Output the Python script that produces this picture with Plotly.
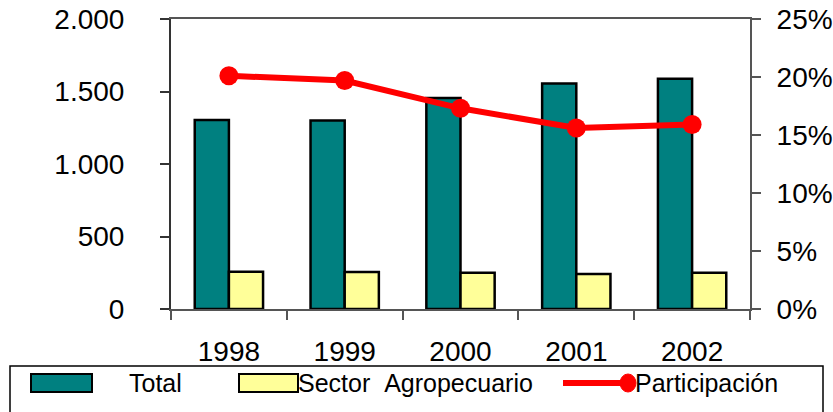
import plotly.graph_objects as go

years = ["1998", "1999", "2000", "2001", "2002"]
total = [1303, 1300, 1455, 1556, 1588]
agro = [257, 255, 250, 241, 250]
participacion = [20.1, 19.7, 17.3, 15.6, 15.9]
pct_ticks = [0, 5, 10, 15, 20, 25]
pct_labels = ["0%", "5%", "10%", "15%", "20%", "25%"]
legend_labels = ["Total", "Sector\u00a0\u00a0Agropecuario", "Participación"]

W, H = 833, 412
L, R, T, B = 171, 750, 19, 309

def px(x):
    return (x - L) / (R - L)

def py(y):
    return (B - y) / (B - T)

FONT = "Liberation Sans, Arial, sans-serif"

fig = go.Figure()
fig.add_trace(go.Bar(x=years, y=total, name=legend_labels[0],
                     marker=dict(color="#008080", line=dict(color="black", width=2.5))))
fig.add_trace(go.Bar(x=years, y=agro, name=legend_labels[1],
                     marker=dict(color="#FFFF99", line=dict(color="black", width=2.5))))
fig.add_trace(go.Scatter(x=years, y=participacion, name=legend_labels[2], yaxis="y2",
                         mode="lines+markers",
                         line=dict(color="#FF0000", width=6),
                         marker=dict(color="#FF0000", size=19)))

shapes = []
annotations = []
shapes.append(dict(type="rect", xref="paper", yref="paper",
                   x0=px(10), x1=px(823), y0=py(366), y1=py(425),
                   line=dict(color="black", width=1.5), fillcolor="white", layer="below"))
shapes.append(dict(type="rect", xref="paper", yref="paper",
                   x0=px(31), x1=px(92), y0=py(374), y1=py(392),
                   line=dict(color="black", width=2), fillcolor="#008080"))
shapes.append(dict(type="rect", xref="paper", yref="paper",
                   x0=px(239), x1=px(298), y0=py(374), y1=py(392),
                   line=dict(color="black", width=2), fillcolor="#FFFF99"))
shapes.append(dict(type="line", xref="paper", yref="paper",
                   x0=px(563), x1=px(628), y0=py(383), y1=py(383),
                   line=dict(color="#FF0000", width=6)))
shapes.append(dict(type="circle", xref="paper", yref="paper",
                   x0=px(620), x1=px(636), y0=py(374), y1=py(392),
                   line=dict(color="#FF0000", width=1), fillcolor="#FF0000"))
for text, x in zip(legend_labels, [128, 297, 634]):
    annotations.append(dict(text=text, xref="paper", yref="paper", x=px(x), y=py(383),
                            xanchor="left", yanchor="middle", showarrow=False, borderpad=0,
                            font=dict(family=FONT, size=25, color="black")))

fig.update_layout(
    width=W, height=H,
    margin=dict(l=L, r=W - R, t=T, b=H - B, pad=0, autoexpand=False),
    paper_bgcolor="white", plot_bgcolor="white",
    separators=",.",
    barmode="group", bargap=0.41, bargroupgap=0,
    showlegend=False,
    font=dict(family=FONT, size=28, color="black"),
    xaxis=dict(showline=True, linecolor="#555555", linewidth=2, mirror=True,
               ticks="outside", ticklen=9, tickcolor="#555555", tickwidth=1.5,
               tickson="boundaries", ticklabelstandoff=16, automargin=False,
               showgrid=False, tickfont=dict(size=28)),
    yaxis=dict(range=[0, 2000], tickvals=[0, 500, 1000, 1500, 2000], tickformat=",d",
               showline=True, linecolor="#333333", linewidth=2, automargin=False,
               ticks="outside", ticklen=9, tickcolor="#333333", tickwidth=1.5,
               ticklabelstandoff=30, showgrid=False, zeroline=False,
               tickfont=dict(size=28)),
    yaxis2=dict(range=[0, 25], tickvals=pct_ticks, ticktext=pct_labels,
                overlaying="y", side="right", automargin=False,
                showline=True, linecolor="#555555", linewidth=2,
                ticks="outside", ticklen=9, tickcolor="#555555", tickwidth=1.5,
                ticklabelstandoff=10, showgrid=False, zeroline=False,
                tickfont=dict(size=28)),
    shapes=shapes, annotations=annotations,
)

fig.write_html("out.html", config={"displayModeBar": False},
               post_script="document.body.style.margin='0px';document.body.style.overflow='hidden';")
